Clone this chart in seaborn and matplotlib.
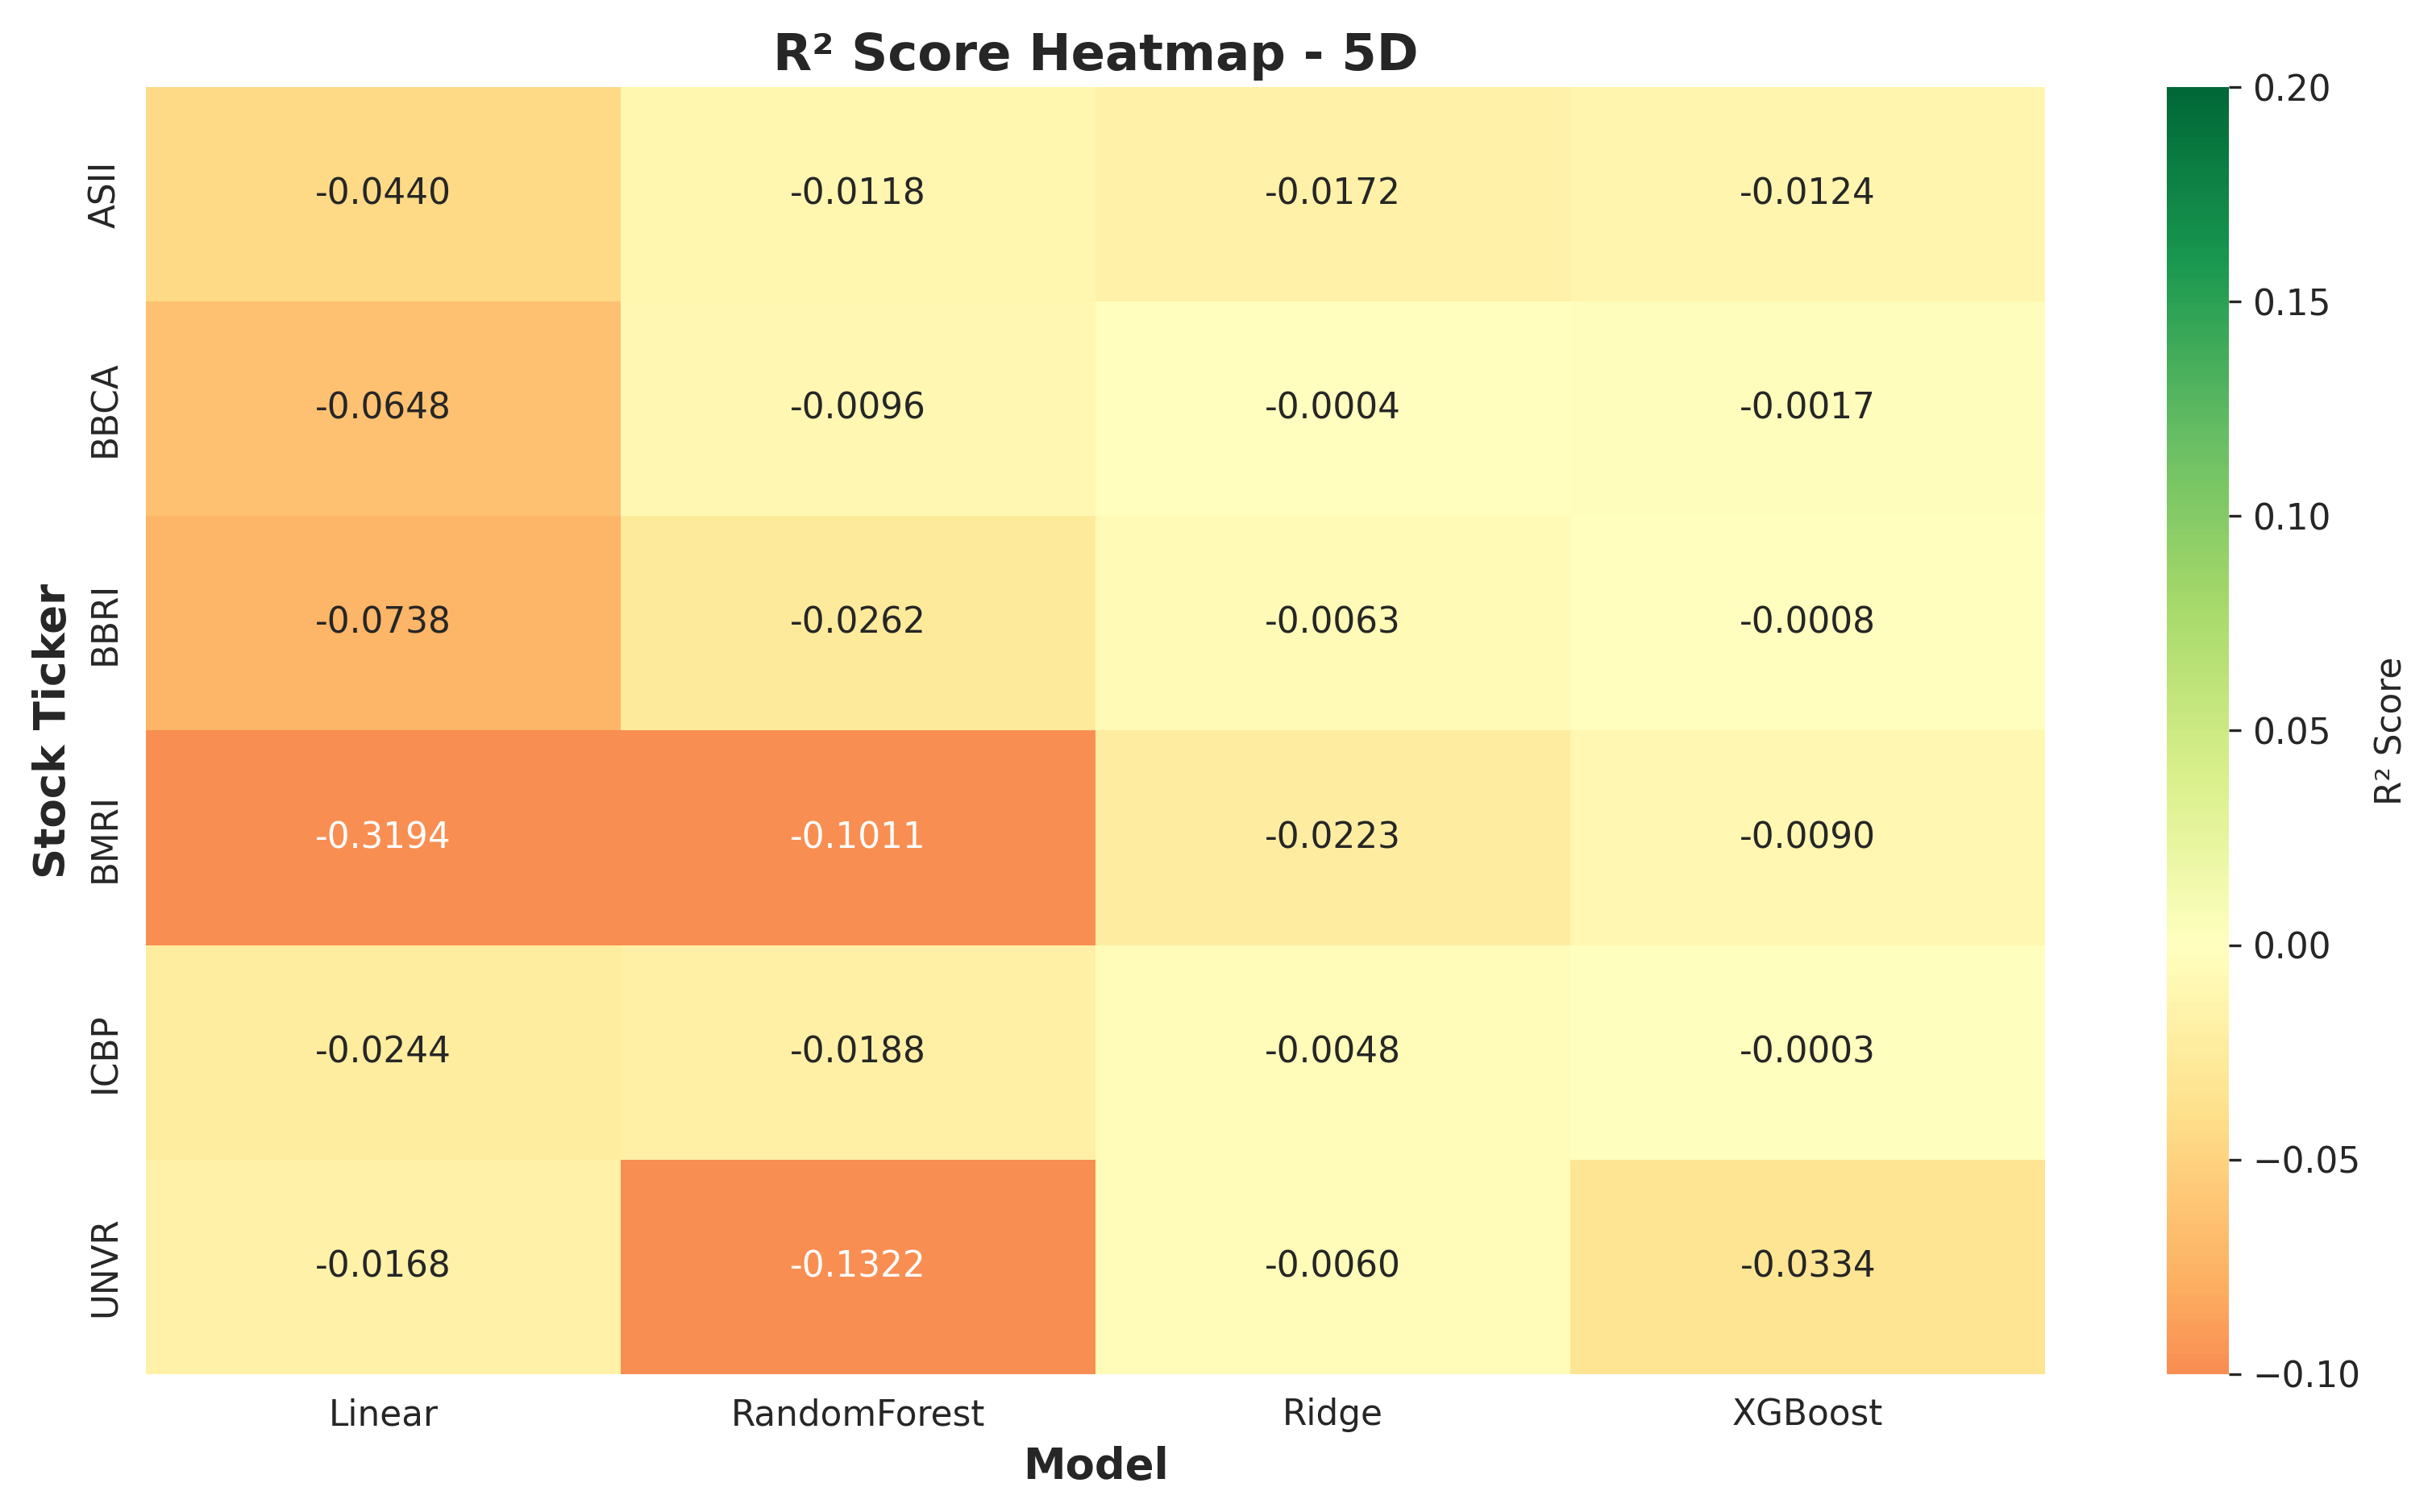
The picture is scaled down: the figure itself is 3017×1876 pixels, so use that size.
import pandas as pd
import matplotlib
matplotlib.use("Agg")
import matplotlib.pyplot as plt
import seaborn as sns

tickers = ["ASII", "BBCA", "BBRI", "BMRI", "ICBP", "UNVR"]
models = ["Linear", "RandomForest", "Ridge", "XGBoost"]

linear = [-0.0440, -0.0648, -0.0738, -0.3194, -0.0244, -0.0168]
random_forest = [-0.0118, -0.0096, -0.0262, -0.1011, -0.0188, -0.1322]
ridge = [-0.0172, -0.0004, -0.0063, -0.0223, -0.0048, -0.0060]
xgboost = [-0.0124, -0.0017, -0.0008, -0.0090, -0.0003, -0.0334]

df = pd.DataFrame(
    {"Linear": linear, "RandomForest": random_forest, "Ridge": ridge, "XGBoost": xgboost},
    index=tickers,
)[models]

sns.set_style("white")
plt.rcParams["font.family"] = ["DejaVu Sans"]

fig = plt.figure(figsize=(3017 / 300, 1876 / 300), dpi=300)
ax = fig.add_axes([0.060, 0.0912, 0.781, 0.8512])
cax = fig.add_axes([0.891, 0.0912, 0.0255, 0.8512])

sns.heatmap(df, annot=True, fmt=".4f", cmap="RdYlGn", center=0, vmin=-0.1, vmax=0.2,
            annot_kws={"fontsize": 10.5}, ax=ax, cbar_ax=cax,
            cbar_kws={"label": "R² Score"})

ax.set_title("R² Score Heatmap - 5D", fontsize=15, fontweight="bold", pad=5)
ax.set_xlabel("Model", fontsize=12.7, fontweight="bold")
ax.set_ylabel("Stock Ticker", fontsize=12.7, fontweight="bold")
ax.tick_params(axis="both", labelsize=10.5)
plt.setp(ax.get_yticklabels(), rotation=90, va="center")
plt.setp(ax.get_xticklabels(), rotation=0)

cax.tick_params(labelsize=10.5)
cax.yaxis.label.set_size(10.5)

fig.savefig("out.png", dpi=300)
